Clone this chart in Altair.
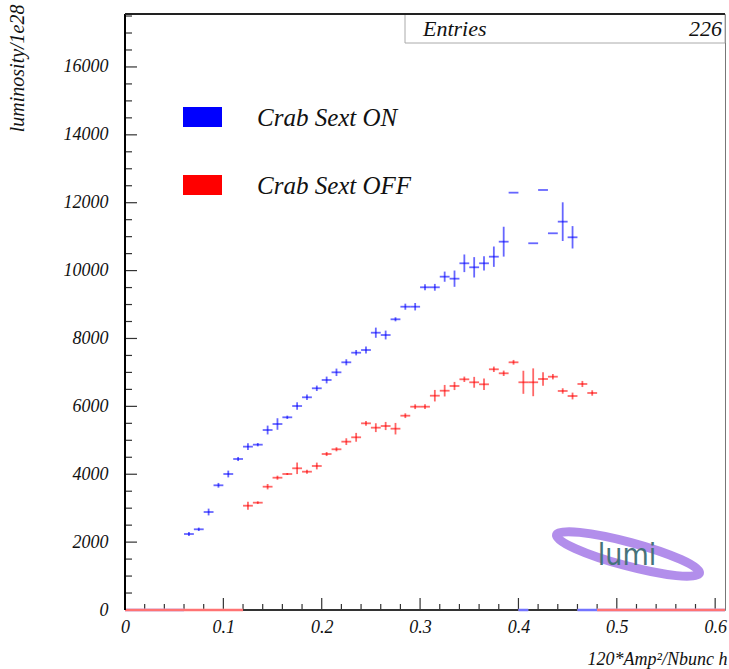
import altair as alt
import pandas as pd

# ---- profile data: bin centres (bin width 0.01), bin means and errors ----
BIN_W = 0.01

on_x = [0.065, 0.075, 0.085, 0.095, 0.105, 0.115, 0.125, 0.135, 0.145, 0.155,
        0.165, 0.175, 0.185, 0.195, 0.205, 0.215, 0.225, 0.235, 0.245, 0.255,
        0.265, 0.275, 0.285, 0.295, 0.305, 0.315, 0.325, 0.335, 0.345, 0.355,
        0.365, 0.375, 0.385, 0.395, 0.415, 0.425, 0.435, 0.445, 0.455]
on_y = [2239, 2378, 2887, 3674, 4007, 4449, 4813, 4871, 5303, 5480,
        5677, 6010, 6267, 6532, 6777, 7003, 7298, 7581, 7660, 8170,
        8102, 8565, 8936, 8936, 9508, 9508, 9821, 9762, 10215, 10097,
        10215, 10410, 10852, 12296, 10805, 12375, 11099, 11442, 10981]
on_err = [60, 50, 100, 70, 100, 60, 100, 50, 130, 170,
          50, 110, 80, 80, 100, 110, 90, 80, 100, 150,
          130, 60, 90, 110, 90, 100, 150, 240, 260, 300,
          210, 300, 440, 0, 0, 0, 0, 570, 330]

off_x = [0.125, 0.135, 0.145, 0.155, 0.165, 0.175, 0.185, 0.195, 0.205, 0.215,
         0.225, 0.235, 0.245, 0.255, 0.265, 0.275, 0.285, 0.295, 0.305, 0.315,
         0.325, 0.335, 0.345, 0.355, 0.365, 0.375, 0.385, 0.395, 0.405, 0.415,
         0.425, 0.435, 0.445, 0.455, 0.465, 0.475]
off_y = [3073, 3162, 3633, 3898, 4007, 4175, 4075, 4243, 4596, 4735,
         4960, 5088, 5500, 5372, 5421, 5342, 5725, 5990, 5990, 6314,
         6461, 6600, 6797, 6709, 6650, 7092, 6974, 7298, 6709, 6709,
         6806, 6874, 6453, 6305, 6659, 6394]
off_err = [120, 40, 80, 60, 30, 170, 60, 100, 60, 60,
           100, 130, 70, 130, 120, 170, 70, 70, 70, 170,
           170, 120, 80, 160, 170, 80, 80, 70, 340, 410,
           200, 80, 80, 100, 90, 80]

# ranges of empty bins, drawn along zero
on_empty_lo = [0.0, 0.40, 0.46]
on_empty_hi = [0.06, 0.41, 0.61]
off_empty_lo = [0.0, 0.48]
off_empty_hi = [0.12, 0.61]

SERIES = ["Crab Sext ON", "Crab Sext OFF"]
COLORS = ["#0000ff", "#ff0000"]
ENTRIES = 226

X_LABELS = [0, 0.1, 0.2, 0.3, 0.4, 0.5, 0.6]
Y_LABELS = [0, 2000, 4000, 6000, 8000, 10000, 12000, 14000, 16000]
X_TITLE = "120*Amp\u00b2/Nbunc h"
Y_TITLE = "luminosity/1e28"

# ---- frame geometry (pixels) ----
W, H = 600, 596
X_DOMAIN = [0, 0.61]
Y_DOMAIN = [0, 17560]
SERIF = "Liberation Serif"

xs = alt.Scale(domain=X_DOMAIN, nice=False, zero=False)
ys = alt.Scale(domain=Y_DOMAIN, nice=False, zero=False)
color = alt.Color("series:N", scale=alt.Scale(domain=SERIES, range=COLORS), legend=None)

prof = pd.concat([
    pd.DataFrame({"x": on_x, "y": on_y, "err": on_err, "series": SERIES[0]}),
    pd.DataFrame({"x": off_x, "y": off_y, "err": off_err, "series": SERIES[1]}),
], ignore_index=True)
prof["x_lo"] = prof["x"] - BIN_W / 2
prof["x_hi"] = prof["x"] + BIN_W / 2
prof["y_lo"] = prof["y"] - prof["err"]
prof["y_hi"] = prof["y"] + prof["err"]

empty = pd.concat([
    pd.DataFrame({"lo": on_empty_lo, "hi": on_empty_hi, "series": SERIES[0], "v": 0}),
    pd.DataFrame({"lo": off_empty_lo, "hi": off_empty_hi, "series": SERIES[1], "v": 0}),
], ignore_index=True)

# one axis definition shared by every layer, so the merged axis keeps its labels
x_axis = alt.Axis(values=X_LABELS, format="~g", ticks=False, domain=False, grid=False,
                  labelFont=SERIF, labelFontStyle="italic", labelFontSize=18,
                  labelColor="#111", labelPadding=8, labelOverlap=False, labelFlush=False,
                  title=X_TITLE, titleFont=SERIF, titleFontStyle="italic",
                  titleFontWeight="normal", titleFontSize=18, titleColor="#111",
                  titleX=602, titleY=54, titleAlign="right", titleAnchor="end",
                  titleBaseline="alphabetic")
y_axis = alt.Axis(values=Y_LABELS, format="d", ticks=False, domain=False, grid=False,
                  labelFont=SERIF, labelFontStyle="italic", labelFontSize=18,
                  labelColor="#111", labelPadding=17, labelOverlap=False, labelFlush=False,
                  title=Y_TITLE, titleFont=SERIF, titleFontStyle="italic",
                  titleFontWeight="normal", titleFontSize=20, titleColor="#111",
                  titleAngle=270, titleX=-102, titleY=-10, titleAlign="right",
                  titleBaseline="alphabetic")


def X(field):
    return alt.X(field, scale=xs, axis=x_axis)


def Y(field):
    return alt.Y(field, scale=ys, axis=y_axis)


# horizontal bars spanning each bin
hbars = alt.Chart(prof).mark_rule(strokeWidth=1.8, opacity=0.6).encode(
    x=X("x_lo:Q"), x2="x_hi:Q", y=Y("y:Q"), color=color)
# vertical error bars
vbars = alt.Chart(prof).transform_filter("datum.err > 0").mark_rule(
    strokeWidth=1.8, opacity=0.6).encode(
    x=X("x:Q"), y=Y("y_lo:Q"), y2="y_hi:Q", color=color)

# frame
frame_bottom = alt.Chart(alt.Data(values=[{}])).mark_rule(color="#333", strokeWidth=2).encode(
    x=alt.value(0), x2=alt.value(W), y=alt.value(H))
frame_left = alt.Chart(alt.Data(values=[{}])).mark_rule(color="#000", strokeWidth=2).encode(
    x=alt.value(0), y=alt.value(0), y2=alt.value(H))
frame_top = alt.Chart(alt.Data(values=[{}])).mark_rule(color="#222", strokeWidth=2).encode(
    x=alt.value(0), x2=alt.value(W), y=alt.value(0))

# empty bins lie on zero and replace the frame line there; OFF is drawn over ON
zero_layers = []
for name in SERIES:
    sub = alt.Chart(empty).transform_filter(alt.datum.series == name)
    zero_layers.append(sub.mark_rule(strokeWidth=2.5, color="white").encode(
        x=X("lo:Q"), x2="hi:Q", y=Y("v:Q")))
    zero_layers.append(sub.mark_rule(strokeWidth=2.5, opacity=0.55).encode(
        x=X("lo:Q"), x2="hi:Q", y=Y("v:Q"), color=color))

# inward ticks
x_major = pd.DataFrame({"t": X_LABELS})
x_minor = pd.DataFrame({"t": [round(i * 0.02, 2) for i in range(31) if i % 5]})
y_major = pd.DataFrame({"t": [i * 2000 for i in range(9)]})
y_minor = pd.DataFrame({"t": [i * 500 for i in range(36) if i % 4]})


def xticks(df, length):
    return alt.Chart(df).mark_rule(color="#333", strokeWidth=1.2).encode(
        x=X("t:Q"), y=alt.value(H), y2=alt.value(H - length))


def yticks(df, length):
    return alt.Chart(df).mark_rule(color="#333", strokeWidth=1.2).encode(
        y=Y("t:Q"), x=alt.value(0), x2=alt.value(length))


ticks = [xticks(x_major, 12), xticks(x_minor, 6), yticks(y_major, 12), yticks(y_minor, 7)]

# statistics box
stat_box = alt.Chart(alt.Data(values=[{}])).mark_rect(
    fill="white", stroke="#aaa", strokeWidth=1).encode(
    x=alt.value(280), x2=alt.value(W), y=alt.value(0), y2=alt.value(29))
stat_label = alt.Chart(alt.Data(values=[{}])).mark_text(
    text="Entries", font=SERIF, fontStyle="italic", fontSize=22, align="left",
    baseline="middle", color="#111").encode(x=alt.value(298), y=alt.value(15))
stat_value = alt.Chart(alt.Data(values=[{}])).mark_text(
    text=str(ENTRIES), font=SERIF, fontStyle="italic", fontSize=22, align="right",
    baseline="middle", color="#111").encode(x=alt.value(597), y=alt.value(15))

# legend
legend_layers = []
for i, (name, col) in enumerate(zip(SERIES, COLORS)):
    top = 93 + i * 68
    legend_layers.append(
        alt.Chart(alt.Data(values=[{}])).mark_rect(fill=col).encode(
            x=alt.value(58), x2=alt.value(97), y=alt.value(top), y2=alt.value(top + 20)))
    legend_layers.append(
        alt.Chart(alt.Data(values=[{}])).mark_text(
            text=name, font=SERIF, fontStyle="italic", fontSize=25, align="left",
            baseline="middle", color="#111").encode(x=alt.value(132), y=alt.value(top + 11)))

# lumi logo
ring = alt.Chart(alt.Data(values=[{}])).mark_point(
    shape="M-1,0A1,0.16,0,1,0,1,0A1,0.16,0,1,0,-1,0Z", size=21904, angle=15,
    filled=False, stroke="#a57be8", strokeWidth=9, opacity=0.85).encode(
    x=alt.value(503), y=alt.value(540))
logo_text = alt.Chart(alt.Data(values=[{}])).mark_text(
    text="lumi", font="Liberation Sans Narrow, DejaVu Sans Condensed, sans-serif",
    fontSize=30, align="center", baseline="alphabetic", color="#45737a").encode(
    x=alt.value(502), y=alt.value(551))

chart = alt.layer(
    hbars, vbars, *ticks, frame_bottom, *zero_layers, ring, logo_text,
    stat_box, stat_label, stat_value, frame_left, frame_top, *legend_layers,
).properties(
    width=W, height=H,
    autosize=alt.AutoSizeParams(type="none"),
    padding={"left": 125, "top": 14, "right": 4, "bottom": 59},
    background="white",
).configure_view(stroke="#777", strokeWidth=1)

chart.save("out.html", embed_options={"renderer": "svg", "actions": False})
